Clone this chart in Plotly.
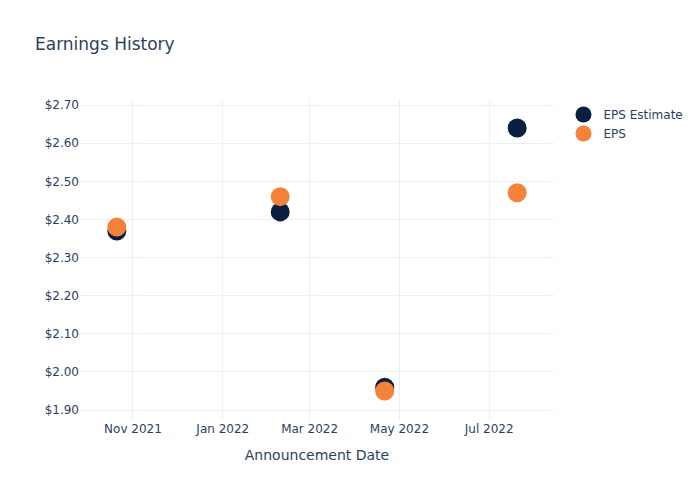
import plotly.graph_objects as go

dates = ["2021-10-21", "2022-02-09", "2022-04-21", "2022-07-20"]
eps_estimate = [2.37, 2.42, 1.96, 2.64]
eps_actual = [2.38, 2.46, 1.95, 2.47]

fig = go.Figure()
fig.add_trace(go.Scatter(x=dates, y=eps_estimate, mode="markers", name="EPS Estimate",
                         marker=dict(color="#0b1f41", size=19)))
fig.add_trace(go.Scatter(x=dates, y=eps_actual, mode="markers", name="EPS",
                         marker=dict(color="#f5813a", size=19)))

fig.update_layout(
    template="plotly_white",
    width=700, height=500,
    font=dict(family="DejaVu Sans"),
    title=dict(text="Earnings History"),
    xaxis=dict(title=dict(text="Announcement Date"), range=["2021-09-26", "2022-08-14"],
               dtick="M2", tickformat="%b %Y"),
    yaxis=dict(tickprefix="$", tickformat=".2f", range=[1.874, 2.7135], dtick=0.1),
    margin=dict(l=80, r=80, t=100, b=80),
)
fig.write_html("out.html")
